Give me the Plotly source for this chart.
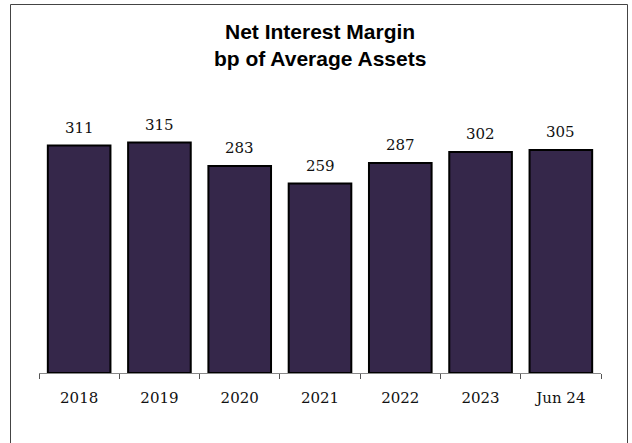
import plotly.graph_objects as go

# Net interest margin, basis points of average assets
periods = ["2018", "2019", "2020", "2021", "2022", "2023", "Jun 24"]
nim_bp = [311, 315, 283, 259, 287, 302, 305]

BAR_COLOR = "#35274a"
LABEL_FONT = "Georgia, DejaVu Serif, serif"
TITLE_FONT = "Liberation Sans, Arial, sans-serif"

W, H = 632, 443
L, R, T, B = 39, 31, 117, 70
plot_w = W - L - R
plot_h = H - T - B


def px_to_paper_x(px):
    return (px - L) / plot_w


def px_to_paper_y(py):
    return (H - B - py) / plot_h


fig = go.Figure(
    go.Bar(
        x=periods,
        y=nim_bp,
        marker=dict(color=BAR_COLOR, line=dict(color="#000000", width=2)),
        hoverinfo="x+y",
    )
)

# value labels above each bar (category axis positions are indices)
for i, v in enumerate(nim_bp):
    fig.add_annotation(
        x=i, y=v, xref="x", yref="y",
        text=str(v), showarrow=False,
        yanchor="middle", yshift=18,
        font=dict(family=LABEL_FONT, size=15, color="#111111"),
    )

# two-line chart title
fig.add_annotation(
    xref="paper", yref="paper", x=0.5, y=px_to_paper_y(31),
    text="<b>Net Interest Margin</b>", showarrow=False,
    xanchor="center", yanchor="middle",
    font=dict(family=TITLE_FONT, size=21, color="#000000"),
)
fig.add_annotation(
    xref="paper", yref="paper", x=0.5, y=px_to_paper_y(58),
    text="<b>bp of Average Assets</b>", showarrow=False,
    xanchor="center", yanchor="middle",
    font=dict(family=TITLE_FONT, size=21, color="#000000"),
)

# frame around the whole chart
fig.add_shape(
    type="rect", xref="paper", yref="paper",
    x0=px_to_paper_x(10.5), x1=px_to_paper_x(627.5),
    y0=px_to_paper_y(446), y1=px_to_paper_y(4.5),
    line=dict(color="#444444", width=1), fillcolor="rgba(0,0,0,0)", layer="below",
)

fig.update_layout(
    width=W, height=H,
    margin=dict(l=L, r=R, t=T, b=B, pad=0),
    paper_bgcolor="white", plot_bgcolor="white",
    bargap=0.22,
    showlegend=False,
    xaxis=dict(
        type="category",
        categoryorder="array", categoryarray=periods,
        range=[-0.5, len(periods) - 0.5],
        showline=True, linecolor="#888888", linewidth=1,
        ticks="outside", tickson="boundaries", ticklen=5, tickcolor="#555555", tickwidth=1,
        ticklabelstandoff=11,
        tickfont=dict(family=LABEL_FONT, size=15, color="#111111"),
        showgrid=False, zeroline=False,
    ),
    yaxis=dict(range=[0, 350], visible=False, showgrid=False, zeroline=False),
)

fig.write_html("out.html")
